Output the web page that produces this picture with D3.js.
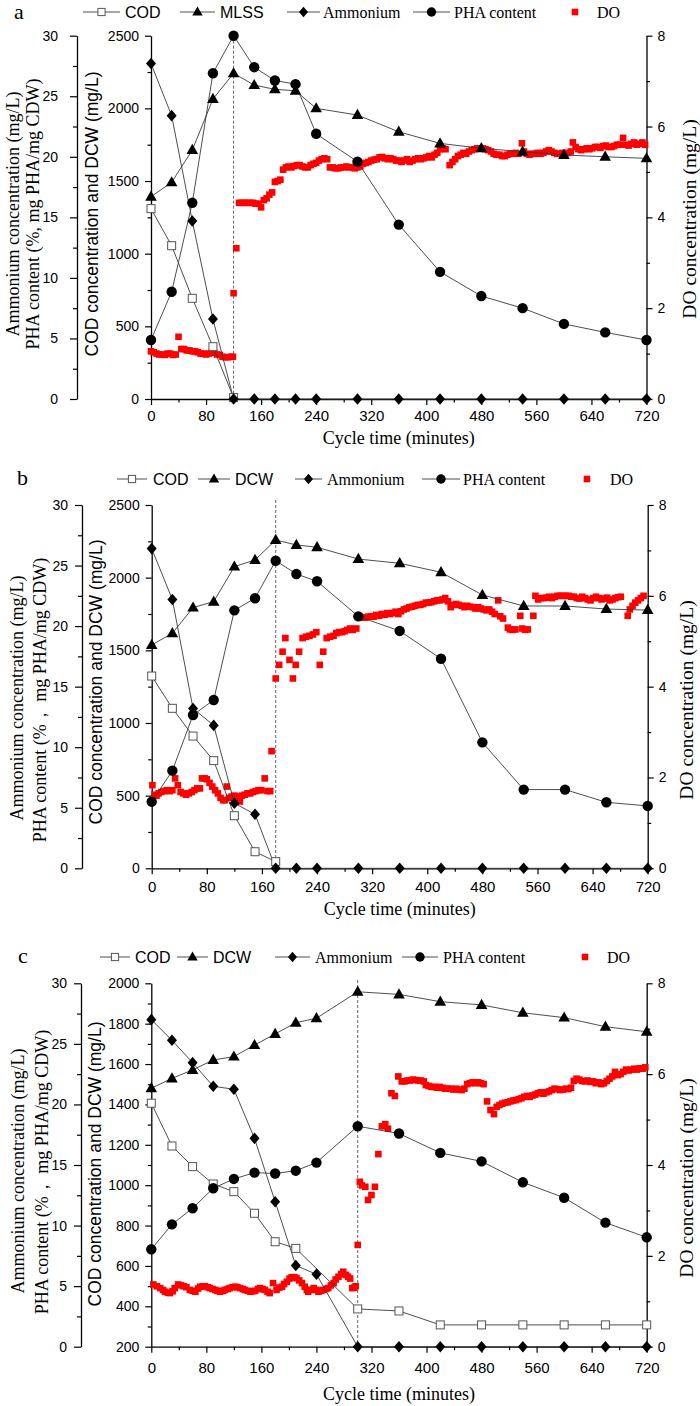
<!DOCTYPE html>
<html><head><meta charset="utf-8">
<script src="https://cdn.jsdelivr.net/npm/d3@7"></script>
<style>body{margin:0;background:#fff}</style>
</head><body>
<svg id="chart" width="700" height="1406"></svg>
<script>
// ---------------- DATA ----------------
const minutes = [0,30,60,90,120,150,180,210,240,300,360,420,480,540,600,660,720];
const xTicks = [0,80,160,240,320,400,480,560,640,720];

// Panel a
const codMinA = [0,30,60,90,120];
const codA = [1310,1055,693,360,10];
const mlssA = [1392,1491,1713,2064,2241,2160,2131,2121,2000,1954,1839,1759,1725,1702,1679,1667,1656];
const ammA = [27.7,23.4,14.7,6.6,0,0,0,0,0,0,0,0,0,0,0,0,0];
const phaA = [4.87,8.86,16.2,26.9,30,27.4,26.3,26.0,21.9,19.6,14.4,10.5,8.5,7.5,6.2,5.5,4.87];
const doA = [[0,1.05],[4,1.03],[8,1.0],[12,0.98],[16,0.98],[20,0.97],[24,1.0],[28,1.0],[32,0.97],[36,0.98],[40,1.37],[44,1.1],[48,1.1],[52,1.07],[56,1.07],[60,1.05],[64,1.05],[68,1.03],[72,1.0],[76,1.0],[80,0.98],[84,1.0],[88,1.02],[92,1.02],[96,0.98],[100,0.97],[104,0.93],[108,0.92],[112,0.92],[116,0.93],[119,0.93],
[120,2.33],[124,3.32],[128,4.32],[132,4.32],[136,4.32],[140,4.32],[144,4.32],[148,4.32],[152,4.3],[156,4.3],[160,4.22],[164,4.38],[168,4.42],[172,4.5],[176,4.55],[180,4.78],[184,4.8],[188,4.83],[192,5.05],[196,5.1],[200,5.12],[204,5.1],[208,5.13],[212,5.15],[216,5.15],[220,5.12],[224,5.1],[228,5.1],[232,5.15],[236,5.18],[240,5.2],[244,5.25],[248,5.28],[252,5.3],[256,5.28],[260,5.1],[264,5.1],[268,5.08],[272,5.08],[276,5.1],[280,5.1],[284,5.12],[288,5.1],[292,5.1],[296,5.08],[300,5.1],[304,5.12],[308,5.18],[312,5.2],[316,5.22],[320,5.25],[324,5.27],[328,5.28],[332,5.32],[336,5.33],[340,5.3],[344,5.28],[348,5.3],[352,5.28],[356,5.25],[360,5.25],[364,5.22],[368,5.25],[372,5.28],[376,5.22],[380,5.25],[384,5.28],[388,5.3],[392,5.28],[396,5.3],[400,5.32],[404,5.35],[408,5.32],[412,5.38],[416,5.42],[420,5.5],[424,5.52],[428,5.5],[434,5.15],[438,5.22],[442,5.28],[446,5.35],[450,5.38],[454,5.42],[458,5.4],[462,5.45],[466,5.48],[470,5.5],[474,5.52],[478,5.52],[482,5.52],[486,5.5],[490,5.48],[494,5.45],[498,5.4],[502,5.38],[506,5.38],[510,5.35],[514,5.35],[518,5.38],[522,5.4],[526,5.4],[530,5.42],[534,5.4],[539,5.63],[542,5.45],[546,5.4],[550,5.38],[554,5.4],[558,5.4],[562,5.42],[566,5.4],[570,5.42],[574,5.45],[578,5.48],[582,5.45],[586,5.42],[590,5.4],[594,5.4],[598,5.42],[602,5.4],[606,5.42],[610,5.45],[613,5.65],[617,5.55],[621,5.5],[625,5.48],[629,5.5],[633,5.52],[637,5.5],[641,5.52],[645,5.55],[649,5.55],[653,5.53],[657,5.57],[661,5.58],[665,5.55],[669,5.55],[673,5.57],[677,5.6],[681,5.6],[686,5.75],[690,5.6],[694,5.58],[698,5.62],[702,5.65],[706,5.6],[710,5.62],[714,5.65],[718,5.6]];

// Panel b
const codMinB = [0,30,60,90,120,150,180];
const codB = [1323,1101,910,741,362,114,46];
const dcwB = [1537,1617,1794,1835,2076,2122,2259,2225,2209,2128,2099,2037,1881,1805,1805,1784,1777];
const ammB = [26.4,22.2,13.2,11.8,5.37,4.46,0,0,0,0,0,0,0,0,0,0,0];
const phaB = [5.5,8.06,12.66,13.9,21.3,22.3,25.4,24.3,23.7,20.8,19.6,17.3,10.4,6.5,6.5,5.45,5.15];
const doB = [[1,1.83],[4,1.62],[7,1.6],[10,1.65],[14,1.68],[18,1.7],[22,1.72],[26,1.7],[30,1.72],[34,1.98],[38,1.83],[42,1.68],[46,1.65],[50,1.62],[54,1.65],[58,1.68],[62,1.72],[66,1.76],[70,1.76],[73,1.98],[77,1.98],[80,1.96],[84,1.88],[88,1.8],[92,1.72],[96,1.65],[100,1.55],[104,1.5],[106,1.5],[109,1.8],[112,1.55],[116,1.58],[120,1.6],[124,1.58],[128,1.47],[131,1.6],[135,1.62],[139,1.65],[143,1.65],[147,1.68],[151,1.7],[155,1.72],[159,1.72],[164,1.98],[168,1.7],[172,1.7],[174,2.58],
[180,4.18],[185,4.48],[190,4.77],[194,5.07],[200,4.59],[205,4.18],[209,4.48],[214,4.77],[219,5.07],[224,5.1],[229,5.12],[234,5.15],[239,5.2],[244,4.48],[249,4.77],[254,5.07],[259,5.1],[264,5.12],[268,5.18],[272,5.2],[276,5.2],[280,5.22],[284,5.25],[288,5.28],[292,5.25],[297,5.28],[302,5.54],[306,5.52],[310,5.52],[314,5.54],[318,5.55],[322,5.54],[326,5.58],[330,5.56],[334,5.6],[338,5.58],[342,5.62],[346,5.6],[350,5.62],[354,5.65],[358,5.6],[362,5.66],[366,5.7],[370,5.72],[374,5.75],[378,5.76],[382,5.78],[386,5.8],[390,5.8],[394,5.82],[398,5.85],[402,5.85],[406,5.86],[410,5.88],[414,5.9],[418,5.9],[422,5.92],[426,5.95],[430,5.88],[434,5.75],[438,5.8],[442,5.82],[446,5.8],[450,5.78],[454,5.75],[458,5.78],[462,5.76],[466,5.75],[470,5.72],[474,5.75],[478,5.72],[482,5.7],[486,5.68],[490,5.7],[494,5.65],[498,5.6],[503,5.9],[506,5.55],[510,5.5],[517,5.3],[520,5.26],[524,5.25],[528,5.26],[535,5.56],[538,5.28],[542,5.25],[546,5.26],[554,5.56],[557,6.0],[561,5.92],[565,5.95],[569,5.95],[573,5.96],[577,5.98],[581,5.95],[585,5.98],[589,6.0],[593,6.0],[597,6.0],[601,6.0],[605,6.0],[609,5.98],[613,5.98],[617,5.95],[621,5.94],[625,5.98],[629,5.95],[633,5.92],[637,5.9],[641,5.95],[645,5.98],[649,5.95],[653,5.92],[657,5.94],[661,5.96],[665,5.9],[669,5.92],[673,5.95],[677,5.97],[681,5.98],[691,5.56],[694,5.7],[698,5.78],[702,5.85],[706,5.9],[710,5.95],[714,6.0]];

// Panel c
const codMinC = [0,30,60,90,120,150,180,210,300,360,420,480,540,600,660,720];
const codC = [1406,1194,1092,1006,968,861,720,687,387,377,308,308,308,308,308,308];
const dcwC = [1480,1529,1571,1620,1637,1694,1749,1805,1827,1958,1945,1909,1893,1854,1830,1785,1760];
const ammC = [27.0,25.3,23.45,21.5,21.25,17.2,11.97,6.7,5.98,0,0,0,0,0,0,0,0];
const phaC = [8.04,10.1,11.43,13.08,13.85,14.37,14.3,14.53,15.2,18.2,17.6,16.0,15.3,13.57,12.3,10.24,9.03];
const doC = [[3,1.37],[8,1.33],[13,1.29],[17,1.25],[20,1.21],[24,1.19],[27,1.18],[31,1.22],[34,1.29],[39,1.37],[43,1.35],[47,1.33],[51,1.31],[56,1.25],[60,1.23],[64,1.21],[68,1.28],[71,1.32],[75,1.33],[78,1.33],[82,1.31],[85,1.29],[89,1.27],[93,1.25],[96,1.23],[100,1.21],[104,1.23],[107,1.25],[111,1.27],[114,1.29],[118,1.31],[122,1.32],[125,1.31],[129,1.29],[133,1.27],[136,1.25],[140,1.23],[144,1.21],[147,1.22],[151,1.23],[155,1.27],[158,1.29],[162,1.27],[165,1.25],[169,1.21],[172,1.18],[177,1.4],[182,1.25],[186,1.3],[190,1.32],[193,1.38],[197,1.43],[201,1.5],[204,1.53],[208,1.53],[211,1.51],[215,1.46],[219,1.4],[223,1.32],[226,1.25],[228,1.21],[232,1.25],[236,1.29],[240,1.25],[243,1.21],[247,1.23],[250,1.25],[254,1.27],[257,1.29],[261,1.35],[265,1.4],[268,1.48],[272,1.54],[276,1.6],[279,1.65],[283,1.58],[286,1.54],[289,1.5],[292,1.29],[295,1.3],[297,1.33],
[300,2.24],[303,3.63],[306,3.55],[311,3.52],[315,3.23],[320,3.34],[325,3.52],[330,4.24],[335,4.85],[340,4.9],[344,4.8],[349,5.58],[354,5.52],[359,5.95],[364,5.84],[368,5.84],[372,5.86],[376,5.86],[380,5.88],[384,5.87],[388,5.86],[392,5.86],[396,5.84],[399,5.76],[403,5.74],[407,5.72],[411,5.72],[415,5.7],[419,5.72],[423,5.7],[427,5.68],[431,5.68],[435,5.68],[439,5.66],[443,5.68],[447,5.66],[451,5.65],[455,5.68],[459,5.78],[463,5.8],[467,5.82],[471,5.8],[475,5.82],[479,5.8],[483,5.78],[488,5.4],[493,5.21],[498,5.12],[502,5.28],[506,5.32],[510,5.35],[514,5.37],[518,5.38],[522,5.4],[526,5.42],[530,5.43],[534,5.45],[538,5.47],[542,5.5],[546,5.52],[550,5.5],[554,5.53],[558,5.55],[562,5.58],[566,5.6],[570,5.57],[574,5.6],[578,5.62],[582,5.65],[586,5.68],[590,5.67],[594,5.65],[598,5.66],[602,5.68],[606,5.67],[610,5.7],[614,5.85],[618,5.9],[622,5.88],[626,5.85],[630,5.84],[634,5.86],[638,5.83],[642,5.84],[646,5.8],[650,5.82],[654,5.78],[658,5.8],[662,5.85],[666,5.9],[670,5.95],[674,6.05],[678,5.98],[682,6.0],[686,6.05],[690,6.1],[694,6.08],[698,6.1],[702,6.12],[706,6.1],[710,6.13],[714,6.12],[718,6.15]];

const legendNamesA = ["COD","MLSS","Ammonium","PHA content","DO"];
const legendNamesBC = ["COD","DCW","Ammonium","PHA content","DO"];
const phaTitleA = "PHA content (%, mg PHA/mg CDW)";
const phaTitleBC = "PHA content (%\uFF0C mg PHA/mg CDW)";

// ---------------- DRAWING ----------------
const SANS = "Arial, 'Liberation Sans', sans-serif";
const SERIF = "'Times New Roman', 'Liberation Serif', serif";
const svg = d3.select("#chart");

const panels = [
  {letter:"a", top:35.7, bottom:399, left:151, right:646.5, outer:77, outerPad:12,
   leftDomain:[0,2500], leftMajor:d3.range(0,2501,500), leftMinor:d3.range(250,2500,500),
   codMin:codMinA, cod:codA, bio:mlssA, amm:ammA, pha:phaA, dO:doA, switchT:120, dashTop:35.7,
   names:legendNamesA, phaTitle:phaTitleA, legY:12, letterX:14, letterY:19,
   leg:[[83,120,125],[180,215,220],[287,320,323],[413,450,454],[575,575,597]],
   tAmm:[13,214], tPha:[33,214], tIn:[92,214], tR:[689,219], xLab:415, xTitle:438},
  {letter:"b", top:505, bottom:868.3, left:151.7, right:647.7, outer:82, outerPad:7,
   leftDomain:[0,2500], leftMajor:d3.range(0,2501,500), leftMinor:d3.range(250,2500,500),
   codMin:codMinB, cod:codB, bio:dcwB, amm:ammB, pha:phaB, dO:doB, switchT:180, dashTop:500,
   names:legendNamesBC, phaTitle:phaTitleBC, legY:479, letterX:17, letterY:485,
   leg:[[117,147,153],[198,230,235],[295,322,327],[422,460,463],[587,587,610]],
   tAmm:[17,698], tPha:[40,700], tIn:[96,682], tR:[686,700], xLab:886, xTitle:909},
  {letter:"c", top:983.3, bottom:1346.7, left:151.3, right:646.7, outer:81, outerPad:7,
   leftDomain:[200,2000], leftMajor:d3.range(200,2001,200), leftMinor:d3.range(300,2000,200),
   codMin:codMinC, cod:codC, bio:dcwC, amm:ammC, pha:phaC, dO:doC, switchT:300, dashTop:980,
   names:legendNamesBC, phaTitle:phaTitleBC, legY:957, letterX:18, letterY:963,
   leg:[[100,130,135],[177,208,213],[275,310,315],[402,438,443],[585,585,607]],
   tAmm:[18,1171], tPha:[42,1172], tIn:[95,1164], tR:[686,1178], xLab:1367, xTitle:1394}
];

const LINE = "#3a3a3a";
const RED = "#ff0000";

function marker(g, type, cx, cy, s) {
  s = s || 1;
  if (type === "square") {
    g.append("rect").attr("x", cx-4*s).attr("y", cy-4*s).attr("width", 8*s).attr("height", 8*s)
      .attr("fill", "#fff").attr("stroke", "#555").attr("stroke-width", 1);
  } else if (type === "triangle") {
    g.append("path").attr("d", `M${cx},${cy-6.2*s}L${cx+5.8*s},${cy+4*s}L${cx-5.8*s},${cy+4*s}Z`).attr("fill", "#000");
  } else if (type === "diamond") {
    g.append("path").attr("d", `M${cx},${cy-5.8*s}L${cx+5*s},${cy}L${cx},${cy+5.8*s}L${cx-5*s},${cy}Z`).attr("fill", "#000");
  } else if (type === "circle") {
    g.append("circle").attr("cx", cx).attr("cy", cy).attr("r", 5.2*s).attr("fill", "#000");
  } else if (type === "do") {
    g.append("rect").attr("x", cx-3.3).attr("y", cy-3.3).attr("width", 6.6).attr("height", 6.6).attr("fill", RED);
  }
}

panels.forEach(p => {
  const g = svg.append("g");
  const x = d3.scaleLinear([0,720],[p.left,p.right]);
  const yL = d3.scaleLinear(p.leftDomain,[p.bottom,p.top]);
  const yO = d3.scaleLinear([0,30],[p.bottom,p.top]);
  const yR = d3.scaleLinear([0,8],[p.bottom,p.top]);

  const styleAxis = (sel, fs) => {
    sel.selectAll("path.domain").attr("stroke","#000").attr("stroke-width",1.3);
    sel.selectAll(".tick line").attr("stroke","#000").attr("stroke-width",1.2);
    sel.selectAll("text").attr("font-family",SANS).attr("font-size",fs).attr("fill","#000");
  };
  const minor = s => { s.select("path.domain").remove(); s.selectAll("line").attr("stroke","#000").attr("stroke-width",1.2); };

  // bottom
  const gb = g.append("g").attr("transform",`translate(0,${p.bottom})`)
    .call(d3.axisBottom(x).tickValues(xTicks).tickSize(6).tickSizeOuter(0).tickPadding(4).tickFormat(d3.format("d")));
  styleAxis(gb, 15);
  gb.selectAll("text").attr("y", null).attr("dy", null)
    .attr("transform", `translate(0,${p.xLab - p.bottom})`).attr("dominant-baseline","central");
  g.append("g").attr("transform",`translate(0,${p.bottom})`)
    .call(d3.axisBottom(x).tickValues(d3.range(40,720,80)).tickSize(3.5).tickFormat("")).call(minor);

  // inner left
  const gl = g.append("g").attr("transform",`translate(${p.left},0)`)
    .call(d3.axisLeft(yL).tickValues(p.leftMajor).tickSize(6).tickSizeOuter(0).tickPadding(6).tickFormat(d3.format("d")));
  styleAxis(gl, 14);
  g.append("g").attr("transform",`translate(${p.left},0)`)
    .call(d3.axisLeft(yL).tickValues(p.leftMinor).tickSize(3.5).tickFormat("")).call(minor);

  // outer left
  const go = g.append("g").attr("transform",`translate(${p.outer},0)`)
    .call(d3.axisLeft(yO).tickValues(d3.range(0,31,5)).tickSize(7).tickSizeOuter(0).tickPadding(p.outerPad).tickFormat(d3.format("d")));
  styleAxis(go, 14);
  g.append("g").attr("transform",`translate(${p.outer},0)`)
    .call(d3.axisLeft(yO).tickValues(d3.range(2.5,30,5)).tickSize(4).tickFormat("")).call(minor);

  // right
  const gr = g.append("g").attr("transform",`translate(${p.right},0)`)
    .call(d3.axisRight(yR).tickValues(d3.range(0,9,2)).tickSize(6).tickSizeOuter(0).tickPadding(5).tickFormat(d3.format("d")));
  styleAxis(gr, 14);
  g.append("g").attr("transform",`translate(${p.right},0)`)
    .call(d3.axisRight(yR).tickValues(d3.range(1,8,2)).tickSize(3.5).tickFormat("")).call(minor);

  // axis titles
  const vtitle = (pos, txt, font, fs) => g.append("text")
    .attr("transform",`translate(${pos[0]},${pos[1]}) rotate(-90)`)
    .attr("text-anchor","middle").attr("dominant-baseline","central")
    .attr("font-family",font).attr("font-size",fs).attr("fill","#000").text(txt);
  vtitle(p.tAmm, "Ammonium concentration (mg/L)", SERIF, 18);
  vtitle(p.tPha, p.phaTitle, SERIF, 18);
  vtitle(p.tIn, "COD concentration and DCW (mg/L)", SANS, 17.5);
  vtitle(p.tR, "DO concentration (mg/L)", SERIF, 19.5);
  g.append("text").attr("x",(p.left+p.right)/2).attr("y",p.xTitle).attr("text-anchor","middle")
    .attr("dominant-baseline","central").attr("font-family",SERIF).attr("font-size",18).text("Cycle time (minutes)");

  // dashed switch line
  g.append("line").attr("x1",x(p.switchT)).attr("x2",x(p.switchT)).attr("y1",p.dashTop).attr("y2",p.bottom)
    .attr("stroke","#666").attr("stroke-width",1).attr("stroke-dasharray","3,2");

  // DO scatter
  const gd = g.append("g");
  p.dO.forEach(d => marker(gd, "do", x(d[0]), yR(d[1])));

  // series lines + markers
  const lineG = g.append("g").attr("fill","none").attr("stroke",LINE).attr("stroke-width",0.9);
  const mk = (ts, vs, ys) => ts.map((t,i)=>[x(t), ys(vs[i])]);
  const series = [
    {pts: mk(p.codMin, p.cod, yL), type:"square"},
    {pts: mk(minutes, p.bio, yL), type:"triangle"},
    {pts: mk(minutes, p.pha, yO), type:"circle"},
    {pts: mk(minutes, p.amm, yO), type:"diamond"}
  ];
  series.forEach(s => lineG.append("path").attr("d", d3.line()(s.pts)));
  series.forEach(s => { const gm = g.append("g"); s.pts.forEach(pt => marker(gm, s.type, pt[0], pt[1])); });

  // panel letter
  g.append("text").attr("x",p.letterX).attr("y",p.letterY).attr("font-family",SERIF).attr("font-size",22).text(p.letter);

  // legend
  const types = ["square","triangle","diamond","circle","do"];
  p.leg.forEach((L,i) => {
    if (types[i] !== "do") {
      g.append("line").attr("x1",L[0]).attr("x2",L[1]).attr("y1",p.legY).attr("y2",p.legY).attr("stroke",LINE).attr("stroke-width",0.9);
    }
    marker(g, types[i], (L[0]+L[1])/2, p.legY, 0.9);
    g.append("text").attr("x",L[2]).attr("y",p.legY).attr("dominant-baseline","central")
      .attr("font-family", i<2 ? SANS : SERIF).attr("font-size",16).text(p.names[i]);
  });
});
</script>
</body></html>
